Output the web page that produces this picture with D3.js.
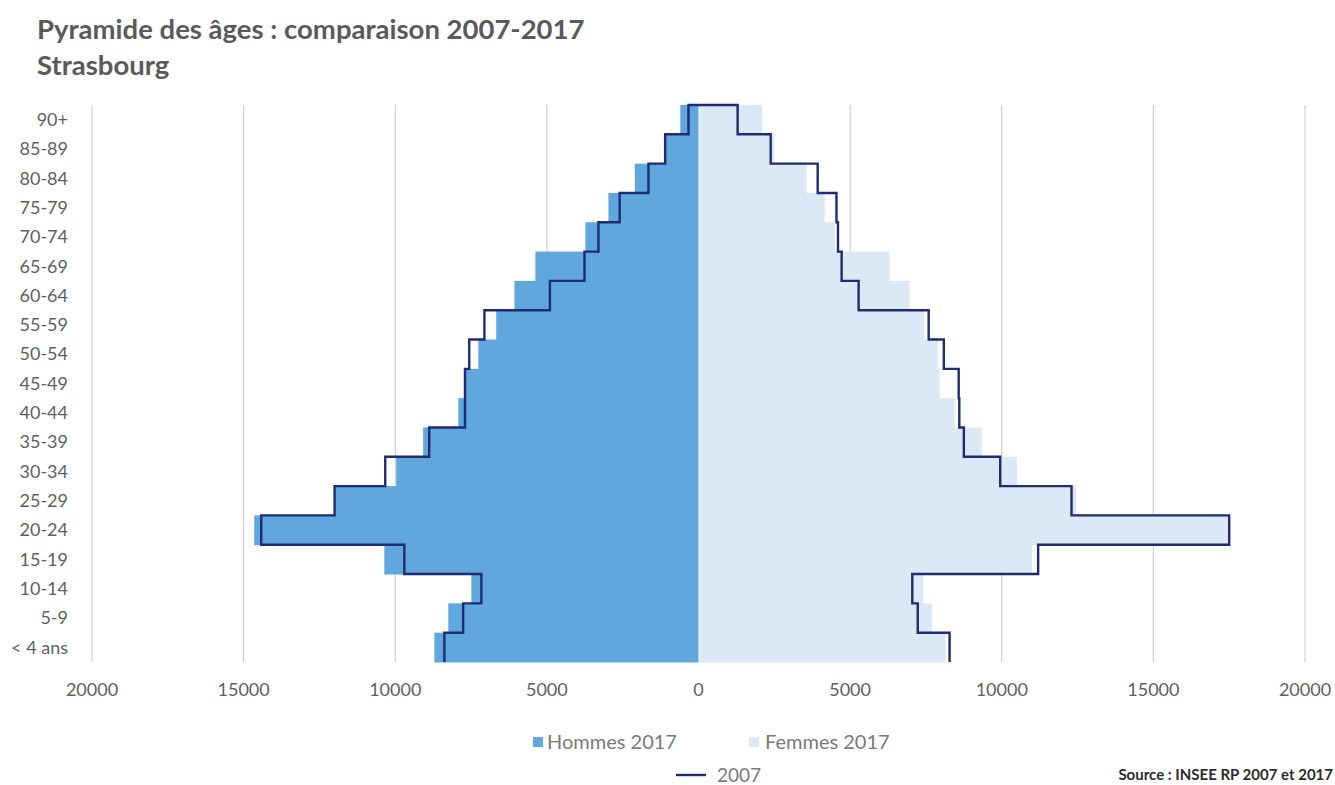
<!DOCTYPE html>
<html lang="fr">
<head>
<meta charset="utf-8">
<title>Pyramide des âges : comparaison 2007-2017 — Strasbourg</title>
<script src="https://cdn.jsdelivr.net/npm/d3@7"></script>
<style>
  html, body { margin: 0; padding: 0; background: #ffffff; }
  svg { display: block; font-family: Lato, "Open Sans", sans-serif; }
</style>
</head>
<body>
<svg id="chart" width="1335" height="785"></svg>
<script>
// Age groups, from oldest (top) to youngest (bottom)
const ages = ["90+", "85-89", "80-84", "75-79", "70-74", "65-69", "60-64", "55-59", "50-54",
              "45-49", "40-44", "35-39", "30-34", "25-29", "20-24", "15-19", "10-14", "5-9", "< 4 ans"];

// Population counts, 2017
const hommes2017 = [600, 1120, 2100, 2970, 3730, 5380, 6070, 6670, 7260,
                    7720, 7920, 9080, 9970, 12000, 14650, 10360, 7490, 8250, 8710];
const femmes2017 = [2100, 2500, 3560, 4160, 4500, 6300, 6960, 7450, 7900,
                    7950, 8450, 9340, 10500, 12450, 17450, 11000, 7400, 7700, 8150];

// Population counts, 2007 (drawn as an outline)
const hommes2007 = [330, 1100, 1650, 2600, 3300, 3760, 4900, 7060, 7560,
                    7700, 7700, 8880, 10330, 12000, 14420, 9700, 7160, 7760, 8380];
const femmes2007 = [1290, 2380, 3930, 4550, 4600, 4720, 5280, 7590, 8090,
                    8580, 8600, 8750, 9950, 12300, 17500, 11200, 7050, 7230, 8280];

// Axis ticks
const xTicks = [-20000, -15000, -10000, -5000, 0, 5000, 10000, 15000, 20000];

const titleLines = ["Pyramide des âges : comparaison 2007-2017", "Strasbourg"];
const legendBars = ["Hommes 2017", "Femmes 2017"];
const legendLine = "2007";
const sourceText = "Source : INSEE RP 2007 et 2017";

const colHommes = "#5fa7dd";
const colFemmes = "#dbe8f5";
const colLine = "#1f2b72";
const colGrid = "#cbc6c6";
const colText = "#5f5f5f";

const svg = d3.select("#chart");

const x = d3.scaleLinear().domain([-20000, 20000]).range([92, 1305]);
const y = d3.scaleBand().domain(ages).range([105, 662]).padding(0);

// Titles
svg.append("g").selectAll("text").data(titleLines).join("text")
  .attr("x", 37).attr("y", (d, i) => 39 + i * 36)
  .attr("fill", "#5a5a5a").attr("font-weight", 700).attr("font-size", 27.5)
  .text(d => d);

// Vertical gridlines
svg.append("g").selectAll("line").data(xTicks.filter(t => t !== 0)).join("line")
  .attr("x1", d => x(d)).attr("x2", d => x(d))
  .attr("y1", y.range()[0]).attr("y2", y.range()[1])
  .attr("stroke", colGrid).attr("stroke-width", 1);

// 2017 bars: men to the left, women to the right
svg.append("g").selectAll("rect").data(ages).join("rect")
  .attr("x", (d, i) => x(-hommes2017[i]))
  .attr("y", d => y(d))
  .attr("width", (d, i) => x(0) - x(-hommes2017[i]))
  .attr("height", y.bandwidth() + 0.5)
  .attr("fill", colHommes);

svg.append("g").selectAll("rect").data(ages).join("rect")
  .attr("x", x(0) + 1)
  .attr("y", d => y(d))
  .attr("width", (d, i) => x(femmes2017[i]) - x(0) - 1)
  .attr("height", y.bandwidth() + 0.5)
  .attr("fill", colFemmes);

// 2007 outline: up the men's side, across the top, down the women's side
const pts = [];
for (let i = ages.length - 1; i >= 0; i--) {
  pts.push([x(-hommes2007[i]), y(ages[i]) + y.bandwidth()]);
  pts.push([x(-hommes2007[i]), y(ages[i])]);
}
for (let i = 0; i < ages.length; i++) {
  pts.push([x(femmes2007[i]), y(ages[i])]);
  pts.push([x(femmes2007[i]), y(ages[i]) + y.bandwidth()]);
}
svg.append("path")
  .attr("d", d3.line()(pts))
  .attr("fill", "none").attr("stroke", colLine).attr("stroke-width", 2.4)
  .attr("stroke-linejoin", "miter");

// Y labels
svg.append("g").selectAll("text").data(ages).join("text")
  .attr("x", 68).attr("y", d => y(d) + y.bandwidth() / 2)
  .attr("dy", "0.35em").attr("text-anchor", "end")
  .attr("fill", colText).attr("font-size", 18)
  .text(d => d);

// X tick labels (absolute values on both sides)
svg.append("g").selectAll("text").data(xTicks).join("text")
  .attr("x", d => x(d)).attr("y", 690)
  .attr("dy", "0.35em").attr("text-anchor", "middle")
  .attr("fill", colText).attr("font-size", 18)
  .text(d => Math.abs(d));

// Legend
const lg = svg.append("g");
const legendPos = [{sx: 533, tx: 547, fill: colHommes}, {sx: 749, tx: 765, fill: colFemmes}];
legendBars.forEach((name, i) => {
  const p = legendPos[i];
  lg.append("rect").attr("x", p.sx).attr("y", 737).attr("width", 10).attr("height", 10)
    .attr("fill", p.fill);
  lg.append("text").attr("x", p.tx).attr("y", 742).attr("dy", "0.35em")
    .attr("fill", "#7a7a7a").attr("font-size", 20).text(name);
});
lg.append("line").attr("x1", 676).attr("x2", 706).attr("y1", 775).attr("y2", 775)
  .attr("stroke", colLine).attr("stroke-width", 2.4);
lg.append("text").attr("x", 717).attr("y", 775).attr("dy", "0.35em")
  .attr("fill", "#7a7a7a").attr("font-size", 19).text(legendLine);

// Source
svg.append("text").attr("x", 1333).attr("y", 780).attr("text-anchor", "end")
  .attr("fill", "#2b2b2b").attr("font-weight", 700).attr("font-size", 15)
  .text(sourceText);
</script>
</body>
</html>
